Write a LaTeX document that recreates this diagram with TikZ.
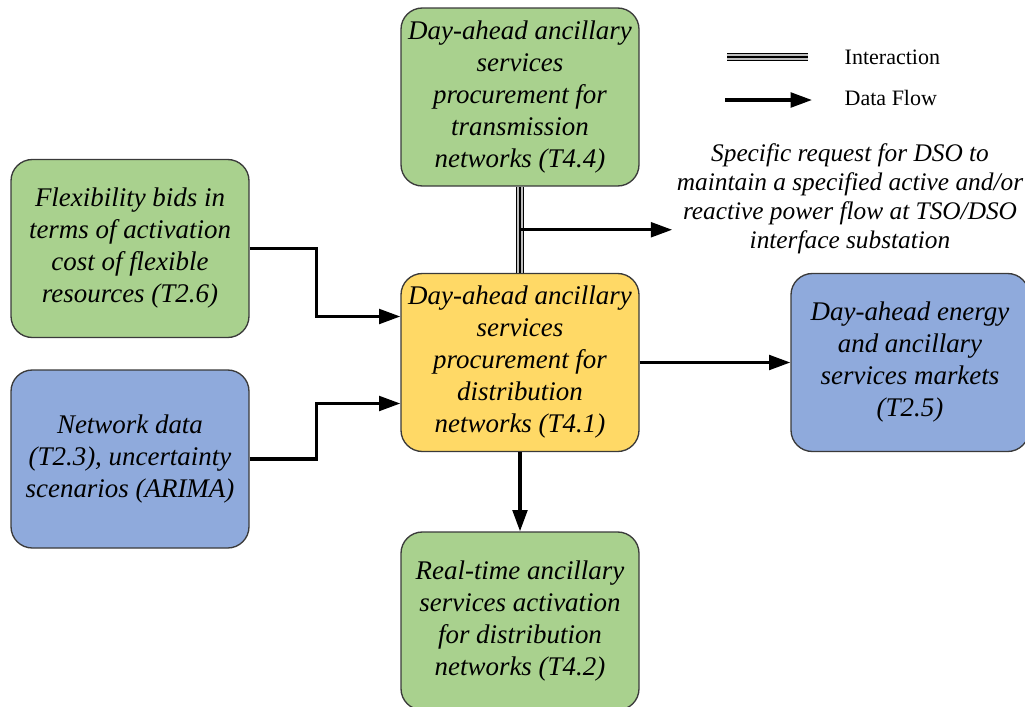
\documentclass[tikz,border=0pt]{standalone}
\usepackage{fontspec}
\setmainfont{Liberation Serif}
\usetikzlibrary{arrows.meta,calc}
\definecolor{boxgreen}{HTML}{A9D18E}
\definecolor{boxblue}{HTML}{8FAADC}
\definecolor{boxyellow}{HTML}{FFD966}
\definecolor{boxedge}{HTML}{3A3A3A}
\tikzset{
  box/.style={draw=boxedge, line width=1pt, rounded corners=16pt,
    minimum width=178.5pt, minimum height=133.5pt,
    align=center, inner sep=0pt,
    font=\fontsize{20.2}{24}\selectfont\itshape},
  flow/.style={line width=2.4pt, -{Triangle[length=16pt,width=11pt]}},
  interact/.style={line width=6.6pt, draw=black,
    postaction={draw=black!25, line width=4.4pt},
    postaction={draw=black, line width=1.2pt}},
  legtext/.style={font=\fontsize{16.5}{18}\selectfont, anchor=west},
  note/.style={font=\fontsize{19}{21.8}\selectfont\itshape, align=center}
}
\begin{document}
\begin{tikzpicture}[x=0.75pt,y=-0.75pt]
\useasboundingbox (0,0) rectangle (1025,707);
\node[box, fill=boxgreen] (top) at (520,97) {Day-ahead ancillary\\services\\procurement for\\transmission\\networks (T4.4)};
\node[box, fill=boxgreen] (flex) at (130,248.5) {Flexibility bids in\\terms of activation\\cost of flexible\\resources (T2.6)};
\node[box, fill=boxblue] (net) at (130,459) {Network data\\(T2.3), uncertainty\\scenarios (ARIMA)};
\node[box, fill=boxyellow] (cen) at (520,362.5) {Day-ahead ancillary\\services\\procurement for\\distribution\\networks (T4.1)};
\node[box, fill=boxblue] (mkt) at (910,362.5) {Day-ahead energy\\and ancillary\\services markets\\(T2.5)};
\node[box, fill=boxgreen] (rt) at (520,621) {Real-time ancillary\\services activation\\for distribution\\networks (T4.2)};
\node[note] (req) at (850,199) {Specific request for DSO to\\maintain a specified active and/or\\reactive power flow at TSO/DSO\\interface substation};

\draw[interact] (top.south) -- (cen.north);
\coordinate (br) at ($(top.south)!0.5!(cen.north)$);
\draw[flow] (br) -- (br -| req.west);
\draw[flow] (flex.east) -- ++(67,0) |- ($(cen.west)+(0,-46)$);
\draw[flow] (net.east) -- ++(67,0) |- ($(cen.west)+(0,41)$);
\draw[flow] (cen.east) -- (mkt.west);
\draw[flow] (cen.south) -- (rt.north);

\coordinate (l1a) at (727,57);
\coordinate (l1b) at (808,57);
\draw[interact] (l1a) -- (l1b);
\node[legtext] (lint) at (840,57) {Interaction};
\coordinate (l2a) at (725,100);
\coordinate (l2b) at (812,100);
\draw[flow] (l2a) -- (l2b);
\node[legtext] (lflow) at (840,98) {Data Flow};
\end{tikzpicture}
\end{document}
